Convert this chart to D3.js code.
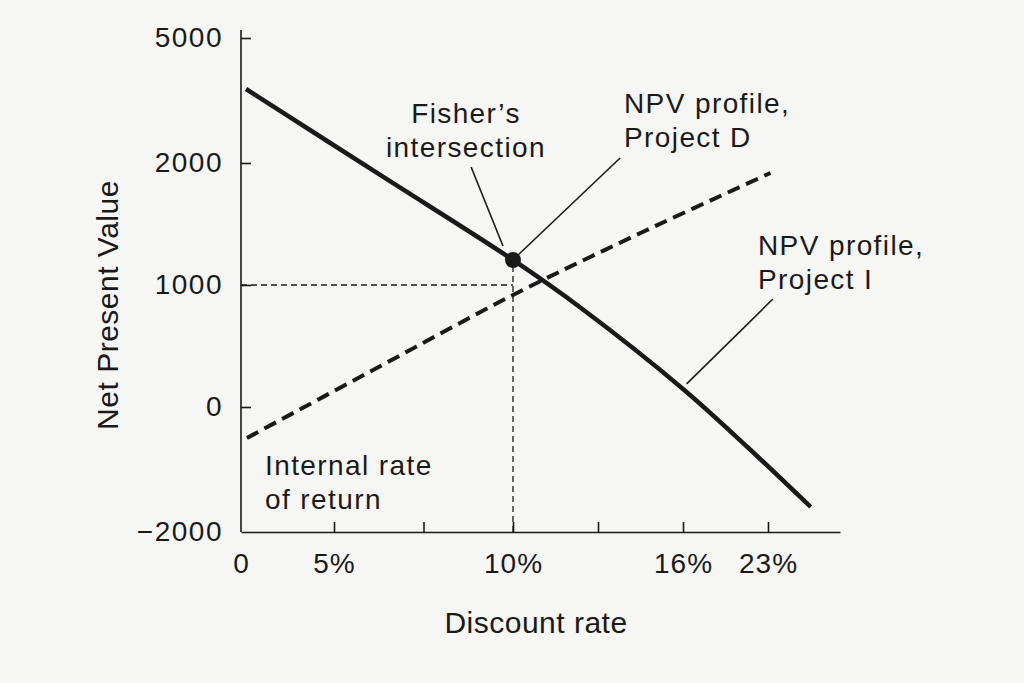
<!DOCTYPE html>
<html>
<head>
<meta charset="utf-8">
<title>NPV profiles</title>
<style>
  html, body { margin: 0; padding: 0; background: #f6f6f5; }
  svg { display: block; font-family: "Liberation Sans", Arial, sans-serif; }
  .axis path, .axis line { stroke: #1a1a1a; stroke-width: 1.6; }
  .axis text { fill: #1a1a1a; font-family: "Liberation Sans", Arial, sans-serif; }
</style>
</head>
<body>
<script src="https://cdn.jsdelivr.net/npm/d3@7"></script>
<script>
// chart size
var w = 1024, h = 683;

// x ticks (discount rate, %) and their labels
var xTicks = [0, 5, 7.5, 10, 13, 16, 23];
var xLabels = ["0", "5%", "", "10%", "", "16%", "23%"];
// y ticks (net present value) - axis is not to scale
var yTicks = [-2000, 0, 1000, 2000, 5000];

// NPV profile, Project D (solid)
var rateD = [0.27, 6.3, 10, 12.4, 16, 21.3, 26.5];
var npvD  = [3776, 1900, 1205, 811, 148, -640, -1600];

// NPV profile, Project I (dashed)
var rateI = [0.32, 6.3, 10, 14.5, 23.2];
var npvI  = [-496, 336, 918, 1426, 1918];

// Fisher's intersection
var fisher = {rate: 10, npv: 1205};
var fisherGuide = 1000;

// schematic axes: piecewise scales so that tick labels sit where the book puts them
var x = d3.scaleLinear()
    .domain([0, 5, 10, 16, 23, 28.9])
    .range([241, 334, 513, 683, 768, 840]);
var y = d3.scaleLinear()
    .domain([-2000, 0, 1000, 2000, 5000])
    .range([532, 407, 285, 163, 38]);

var svg = d3.select("body").append("svg")
    .attr("width", w)
    .attr("height", h);

svg.append("rect").attr("width", w).attr("height", h).attr("fill", "#f6f6f5");

// X axis
var xAxis = d3.axisBottom(x)
    .tickValues(xTicks.slice(1))
    .tickFormat(function(d) { return xLabels[xTicks.indexOf(d)]; })
    .tickSizeInner(-10)
    .tickSizeOuter(0)
    .tickPadding(21);
var gx = svg.append("g")
    .attr("class", "axis")
    .attr("transform", "translate(0," + y(-2000) + ")")
    .call(xAxis);
gx.selectAll("text").attr("font-size", 28).attr("letter-spacing", 1);
// the "0" at the origin
gx.append("text")
    .attr("x", x(0))
    .attr("y", 21)
    .attr("dy", "0.71em")
    .attr("text-anchor", "middle")
    .attr("fill", "#1a1a1a")
    .attr("font-size", 28)
    .text(xLabels[0]);

// Y axis
var yAxis = d3.axisLeft(y)
    .tickValues(yTicks)
    .tickFormat(function(d) { return d < 0 ? "\u2212" + Math.abs(d) : String(d); })
    .tickSizeInner(-10)
    .tickSizeOuter(0)
    .tickPadding(18);
var gy = svg.append("g")
    .attr("class", "axis")
    .attr("transform", "translate(" + x(0) + ",0)")
    .call(yAxis);
gy.select(".domain").attr("d", "M0," + (y(5000) - 8) + "V" + y(-2000));
gy.selectAll("text").attr("font-size", 28).attr("letter-spacing", 1.5);
// no tick at the bottom corner
gy.selectAll(".tick").filter(function(d) { return d === -2000; }).select("line").remove();

// guide lines to Fisher's intersection
var guide = svg.append("g")
    .attr("stroke", "#1a1a1a")
    .attr("stroke-width", 1.3)
    .attr("stroke-dasharray", "6,4")
    .attr("fill", "none");
guide.append("line")
    .attr("x1", x(0)).attr("x2", x(fisher.rate))
    .attr("y1", y(fisherGuide)).attr("y2", y(fisherGuide));
guide.append("line")
    .attr("x1", x(fisher.rate)).attr("x2", x(fisher.rate))
    .attr("y1", y(fisher.npv) + 6).attr("y2", y(-2000));

var line = d3.line()
    .x(function(d) { return x(d[0]); })
    .y(function(d) { return y(d[1]); })
    .curve(d3.curveCatmullRom);

// Project I (dashed)
svg.append("path")
    .datum(d3.zip(rateI, npvI))
    .attr("d", line)
    .attr("fill", "none")
    .attr("stroke", "#1a1a1a")
    .attr("stroke-width", 4)
    .attr("stroke-dasharray", "13,7");

// Project D (solid)
svg.append("path")
    .datum(d3.zip(rateD, npvD))
    .attr("d", line)
    .attr("fill", "none")
    .attr("stroke", "#1a1a1a")
    .attr("stroke-width", 4.5);

// dot at the intersection
svg.append("circle")
    .attr("cx", x(fisher.rate))
    .attr("cy", y(fisher.npv))
    .attr("r", 8)
    .attr("fill", "#1a1a1a");

// leader lines [rate1, npv1, rate2, npv2]
var leaders = [
  [8.83, 1967, 9.72, 1320],
  [13.78, 2120, 10.18, 1246],
  [23.4, 885, 16.3, 189]
];
svg.append("g").selectAll("line")
    .data(leaders)
    .enter().append("line")
    .attr("x1", function(d) { return x(d[0]); })
    .attr("y1", function(d) { return y(d[1]); })
    .attr("x2", function(d) { return x(d[2]); })
    .attr("y2", function(d) { return y(d[3]); })
    .attr("stroke", "#1a1a1a")
    .attr("stroke-width", 1.6);

// annotation text
var notes = [
  {x: 466, y: 123, anchor: "middle", lines: ["Fisher\u2019s", "intersection"]},
  {x: 624, y: 113, anchor: "start", lines: ["NPV profile,", "Project D"]},
  {x: 758, y: 255, anchor: "start", lines: ["NPV profile,", "Project I"]},
  {x: 265, y: 475, anchor: "start", lines: ["Internal rate", "of return"]}
];
notes.forEach(function(n) {
  var t = svg.append("text")
      .attr("x", n.x)
      .attr("y", n.y)
      .attr("text-anchor", n.anchor)
      .attr("font-size", 28)
      .attr("letter-spacing", 1.4)
      .attr("fill", "#1a1a1a");
  n.lines.forEach(function(s, i) {
    t.append("tspan").attr("x", n.x).attr("dy", i === 0 ? 0 : 34).text(s);
  });
});

// axis titles
svg.append("text")
    .attr("transform", "translate(118,305) rotate(-90)")
    .attr("text-anchor", "middle")
    .attr("font-size", 30)
    .attr("letter-spacing", 0.5)
    .attr("fill", "#1a1a1a")
    .text("Net Present Value");

svg.append("text")
    .attr("x", 536)
    .attr("y", 633)
    .attr("text-anchor", "middle")
    .attr("font-size", 30)
    .attr("letter-spacing", 0.5)
    .attr("fill", "#1a1a1a")
    .text("Discount rate");
</script>
</body>
</html>
